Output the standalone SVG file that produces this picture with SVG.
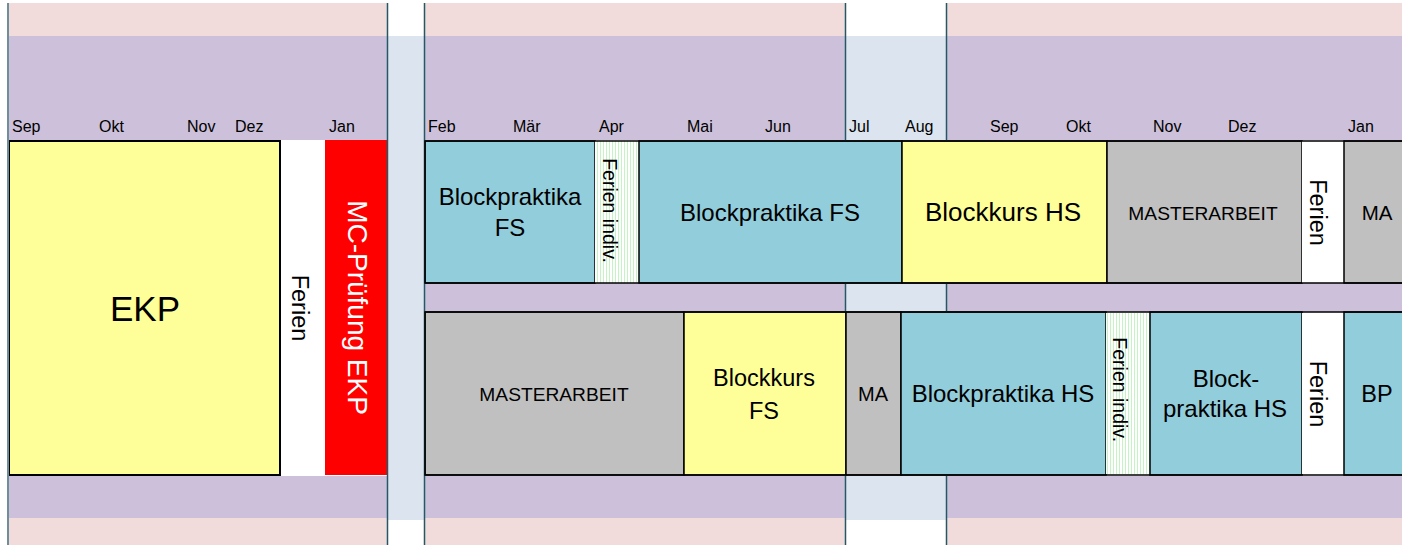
<svg xmlns="http://www.w3.org/2000/svg" width="1402" height="545" viewBox="0 0 1402 545">
<defs>
<pattern id="hatch" width="3" height="10" patternUnits="userSpaceOnUse">
<rect width="3" height="10" fill="#ffffff"/>
<rect x="0" width="1" height="10" fill="#c4f3c4"/>
</pattern>
<style>
text{font-family:"Liberation Sans",Arial,sans-serif;fill:#000}
.m{font-size:16px}
.c{text-anchor:middle}
.r{text-anchor:middle}
.blk{stroke:#000;stroke-width:1.5}
.sep{stroke:#255866;stroke-width:1.5}
</style>
</defs>
<rect width="1402" height="545" fill="#ffffff"/>
<g id="background">
<rect x="8" y="3" width="379" height="33" fill="#f1dcdb"/>
<rect x="425" y="3" width="421" height="33" fill="#f1dcdb"/>
<rect x="947" y="3" width="455" height="33" fill="#f1dcdb"/>
<rect x="8" y="36" width="379" height="104" fill="#cdc0da"/>
<rect x="425" y="36" width="421" height="104" fill="#cdc0da"/>
<rect x="947" y="36" width="455" height="104" fill="#cdc0da"/>
<rect x="388" y="36" width="37" height="484" fill="#dce5ef"/>
<rect x="846" y="36" width="101" height="104" fill="#dce5ef"/>
<rect x="425" y="283" width="421" height="29" fill="#cdc0da"/>
<rect x="947" y="283" width="455" height="29" fill="#cdc0da"/>
<rect x="846" y="283" width="101" height="29" fill="#dce5ef"/>
<rect x="8" y="476" width="379" height="42" fill="#cdc0da"/>
<rect x="425" y="476" width="421" height="42" fill="#cdc0da"/>
<rect x="947" y="476" width="455" height="42" fill="#cdc0da"/>
<rect x="846" y="476" width="101" height="44" fill="#dce5ef"/>
<rect x="8" y="518" width="379" height="27" fill="#f1dcdb"/>
<rect x="425" y="518" width="421" height="27" fill="#f1dcdb"/>
<rect x="947" y="518" width="455" height="27" fill="#f1dcdb"/>
</g>
<g id="months">
<text class="m" x="12" y="132">Sep</text>
<text class="m" x="99" y="132">Okt</text>
<text class="m" x="187" y="132">Nov</text>
<text class="m" x="235" y="132">Dez</text>
<text class="m" x="329" y="132">Jan</text>
<text class="m" x="428" y="132">Feb</text>
<text class="m" x="513" y="132">Mär</text>
<text class="m" x="599" y="132">Apr</text>
<text class="m" x="687" y="132">Mai</text>
<text class="m" x="765" y="132">Jun</text>
<text class="m" x="849" y="132">Jul</text>
<text class="m" x="905" y="132">Aug</text>
<text class="m" x="990" y="132">Sep</text>
<text class="m" x="1066" y="132">Okt</text>
<text class="m" x="1153" y="132">Nov</text>
<text class="m" x="1228" y="132">Dez</text>
<text class="m" x="1348" y="132">Jan</text>
</g>
<g id="ekp">
<rect x="9" y="141" width="271" height="334" fill="#ffff99" stroke="#000" stroke-width="2"/>
<text class="c" x="145" y="321" font-size="35">EKP</text>
</g>
<g id="ferien-ekp">
<rect x="281" y="141" width="44" height="334" fill="#ffffff"/>
<text class="c" font-size="23.5" transform="translate(292,308) rotate(90)">Ferien</text>
</g>
<g id="mc-pruefung">
<rect x="325" y="140" width="62" height="335" fill="#ff0000"/>
<text class="c" font-size="28" style="fill:#ffffff" transform="translate(348,307.5) rotate(90)">MC-Prüfung EKP</text>
</g>
<g id="bp-fs-1">
<rect x="425" y="141" width="170" height="142" fill="#92cddc" class="blk"/>
<text class="c" x="510" y="205" font-size="24">Blockpraktika</text>
<text class="c" x="510" y="236" font-size="24">FS</text>
</g>
<g id="ferien-indiv-1">
<rect x="595" y="141" width="44" height="142" fill="url(#hatch)"/>
<text class="c" font-size="19.5" transform="translate(603,210.5) rotate(90)">Ferien indiv.</text>
</g>
<g id="bp-fs-2">
<rect x="639" y="141" width="263" height="142" fill="#92cddc" class="blk"/>
<text class="c" x="770" y="221" font-size="24">Blockpraktika FS</text>
</g>
<g id="bk-hs">
<rect x="902" y="141" width="205" height="142" fill="#ffff99" class="blk"/>
<text class="c" x="1003" y="221" font-size="26">Blockkurs HS</text>
</g>
<g id="ma-1">
<rect x="1107" y="141" width="195" height="142" fill="#c0c0c0" class="blk"/>
<text class="c" x="1203" y="219.5" font-size="19.2">MASTERARBEIT</text>
</g>
<g id="ferien-1">
<rect x="1302" y="141" width="42" height="142" fill="#ffffff"/>
<text class="c" font-size="23.5" transform="translate(1309.5,212.5) rotate(90)">Ferien</text>
</g>
<g id="ma-2">
<rect x="1344" y="141" width="60" height="142" fill="#c0c0c0" class="blk"/>
<text class="c" x="1377" y="219.5" font-size="20.5">MA</text>
</g>
<g id="ma-3">
<rect x="425" y="312" width="259" height="163" fill="#c0c0c0" class="blk"/>
<text class="c" x="554" y="401" font-size="19.2">MASTERARBEIT</text>
</g>
<g id="bk-fs">
<rect x="684" y="312" width="162" height="163" fill="#ffff99" class="blk"/>
<text class="c" x="764" y="386" font-size="23.5">Blockkurs</text>
<text class="c" x="764" y="419" font-size="23.5">FS</text>
</g>
<g id="ma-4">
<rect x="846" y="312" width="55" height="163" fill="#c0c0c0" class="blk"/>
<text class="c" x="873" y="401" font-size="20">MA</text>
</g>
<g id="bp-hs-1">
<rect x="901" y="312" width="205" height="163" fill="#92cddc" class="blk"/>
<text class="c" x="1003" y="402" font-size="24">Blockpraktika HS</text>
</g>
<g id="ferien-indiv-2">
<rect x="1106" y="313" width="44" height="161" fill="url(#hatch)"/>
<text class="c" font-size="19.5" transform="translate(1113,389.7) rotate(90)">Ferien indiv.</text>
</g>
<g id="bp-hs-2">
<rect x="1150" y="312" width="152" height="163" fill="#92cddc" class="blk"/>
<text class="c" x="1226" y="387" font-size="24">Block-</text>
<text class="c" x="1225" y="417" font-size="24">praktika HS</text>
</g>
<g id="ferien-2">
<rect x="1302" y="313" width="42" height="161" fill="#ffffff"/>
<text class="c" font-size="23.5" transform="translate(1309.5,394) rotate(90)">Ferien</text>
</g>
<g id="bp">
<rect x="1344" y="312" width="60" height="163" fill="#92cddc" class="blk"/>
<text class="c" x="1377" y="402" font-size="23.5">BP</text>
</g>
<g id="connectors">
<line x1="8" y1="3" x2="8" y2="545" stroke="#6f8e9c" stroke-width="2"/>
<line x1="387.5" y1="3" x2="387.5" y2="545" class="sep"/>
<line x1="424.5" y1="3" x2="424.5" y2="545" class="sep"/>
<line x1="845.5" y1="3" x2="845.5" y2="141" class="sep"/>
<line x1="845.5" y1="283" x2="845.5" y2="312" class="sep"/>
<line x1="845.5" y1="475" x2="845.5" y2="545" class="sep"/>
<line x1="946.5" y1="3" x2="946.5" y2="141" class="sep"/>
<line x1="946.5" y1="283" x2="946.5" y2="312" class="sep"/>
<line x1="946.5" y1="475" x2="946.5" y2="545" class="sep"/>
<rect x="425" y="141" width="980" height="142" fill="none" class="blk"/>
<rect x="425" y="312" width="980" height="163" fill="none" class="blk"/>
</g>
</svg>
